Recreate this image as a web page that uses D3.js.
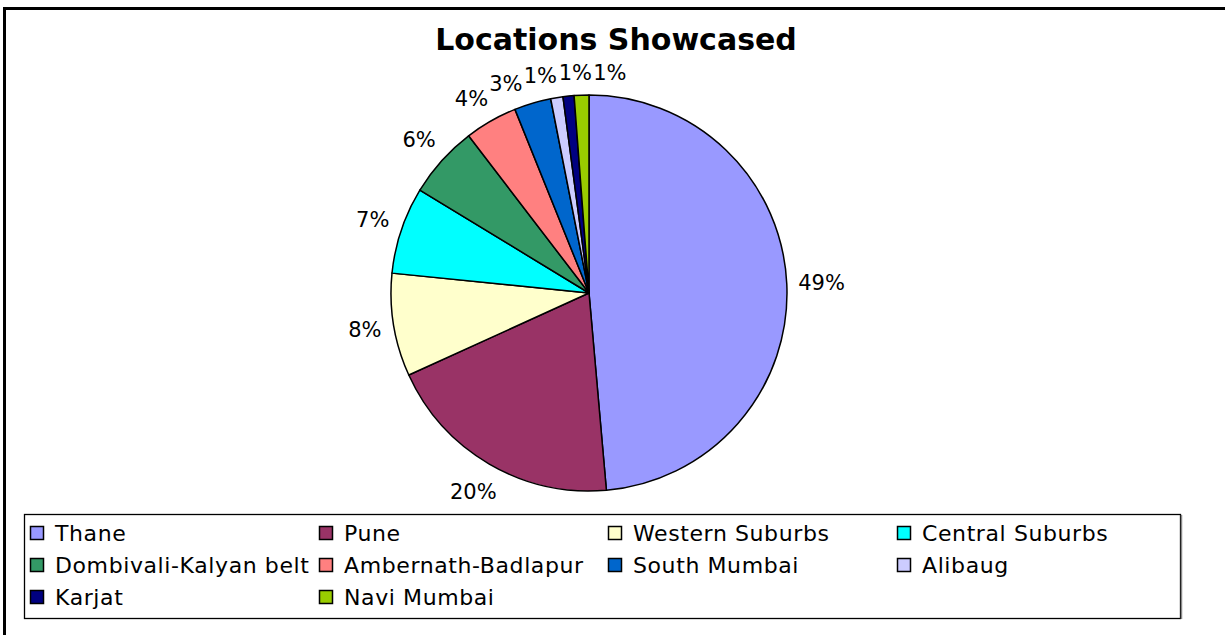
<!DOCTYPE html>
<html>
<head>
<meta charset="utf-8">
<script src="https://cdn.jsdelivr.net/npm/d3@7"></script>
<style>
  body { margin: 0; background: #fff; }
  svg { display: block; }
  text { font-family: "DejaVu Sans", Arial, sans-serif; fill: #000; }
</style>
</head>
<body>
<svg width="1225" height="635"></svg>
<script>
// data (percent shares)
const locations = [
  "Thane", "Pune", "Western Suburbs", "Central Suburbs",
  "Dombivali-Kalyan belt", "Ambernath-Badlapur", "South Mumbai",
  "Alibaug", "Karjat", "Navi Mumbai"
];
const shares = [48.6, 19.6, 8.4, 7.1, 5.9, 4.3, 3.0, 1.0, 0.9, 1.2];
const sliceColors = [
  "#9999FF", "#993366", "#FFFFCC", "#00FFFF", "#339966",
  "#FF8080", "#0066CC", "#CCCCFF", "#000080", "#99CC00"
];
const chartTitle = "Locations Showcased";

const width = 1225;
const height = 635;
const cx = 589, cy = 293;
const radius = 198;
const labelGap = 11;

const svg = d3.select("svg");

// outer frame (runs off the right / bottom of the picture)
svg.append("rect")
  .attr("x", 4.5).attr("y", 8.5)
  .attr("width", width).attr("height", height)
  .attr("fill", "none")
  .attr("stroke", "#000")
  .attr("stroke-width", 3);

svg.append("text")
  .attr("x", 616)
  .attr("y", 50)
  .attr("text-anchor", "middle")
  .attr("font-size", 30)
  .attr("font-weight", "bold")
  .text(chartTitle);

const data = locations.map((name, i) => ({ name: name, value: shares[i], color: sliceColors[i] }));
const total = d3.sum(shares);

const pie = d3.pie().sort(null).value(d => d.value);
const arcs = pie(data);
const arc = d3.arc().innerRadius(0).outerRadius(radius);

const pieG = svg.append("g").attr("transform", `translate(${cx},${cy})`);
pieG.selectAll("path")
  .data(arcs)
  .enter()
  .append("path")
  .attr("d", arc)
  .attr("fill", d => d.data.color)
  .attr("stroke", "#000")
  .attr("stroke-width", 1.5)
  .attr("stroke-linejoin", "round");

// percent labels
const fmt = d3.format(".0%");
const labelH = 21;
const labels = pieG.selectAll("text.pct")
  .data(arcs)
  .enter()
  .append("text")
  .attr("class", "pct")
  .attr("text-anchor", "middle")
  .attr("dominant-baseline", "central")
  .attr("font-size", 21)
  .text(d => fmt(d.data.value / total));

let items = arcs.map((d, i) => ({
  a: (d.startAngle + d.endAngle) / 2,
  w: labels.nodes()[i].getComputedTextLength()
}));

// label sits just outside the rim, box edge at a fixed gap
function place(it) {
  const ux = Math.sin(it.a), uy = -Math.cos(it.a);
  const r = radius + labelGap + Math.abs(ux) * it.w / 2 + Math.abs(uy) * labelH / 2;
  it.x = r * ux;
  it.y = r * uy;
}

// push crowded labels apart along the circle
for (let iter = 0; iter < 400; iter++) {
  let moved = false;
  items.forEach(place);
  for (let i = 0; i < items.length; i++) {
    for (let j = i + 1; j < items.length; j++) {
      const p = items[i], q = items[j];
      const ox = (p.w + q.w) / 2 + 1 - Math.abs(p.x - q.x);
      const oy = labelH - 2 - Math.abs(p.y - q.y);
      if (ox > 0 && oy > 0) {
        p.a -= 0.003;
        q.a += 0.003;
        moved = true;
      }
    }
  }
  if (!moved) break;
}
items.forEach(place);

labels
  .attr("x", (d, i) => items[i].x)
  .attr("y", (d, i) => items[i].y);

// legend
const legendBox = { x: 24, y: 514, w: 1156, h: 104 };
svg.append("rect")
  .attr("x", legendBox.x + 0.5).attr("y", legendBox.y + 0.5)
  .attr("width", legendBox.w).attr("height", legendBox.h)
  .attr("fill", "#fff")
  .attr("stroke", "#000")
  .attr("stroke-width", 1.3);
svg.append("line")
  .attr("x1", legendBox.x + legendBox.w + 1.5).attr("x2", legendBox.x + legendBox.w + 1.5)
  .attr("y1", legendBox.y + 1).attr("y2", legendBox.y + legendBox.h + 1)
  .attr("stroke", "#888")
  .attr("stroke-width", 1.5);

const colX = d3.scaleLinear().domain([0, 1]).range([30, 319]);
const rowY = d3.scaleLinear().domain([0, 1]).range([533, 565]);

const legendItems = svg.selectAll("g.legend-item")
  .data(data)
  .enter()
  .append("g")
  .attr("class", "legend-item")
  .attr("transform", (d, i) => `translate(${colX(i % 4)},${rowY(Math.floor(i / 4))})`);

legendItems.append("rect")
  .attr("x", 0.5).attr("y", -6.5)
  .attr("width", 13).attr("height", 13)
  .attr("fill", d => d.color)
  .attr("stroke", "#000")
  .attr("stroke-width", 1.5);

legendItems.append("text")
  .attr("x", 25)
  .attr("y", 0)
  .attr("dominant-baseline", "central")
  .attr("font-size", 22)
  .attr("letter-spacing", 0.6)
  .text(d => d.name);
</script>
</body>
</html>
